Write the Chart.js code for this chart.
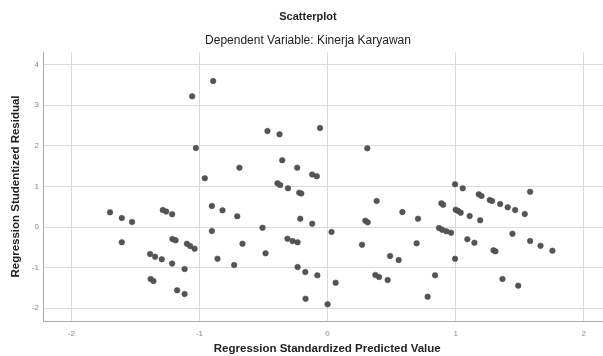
<!DOCTYPE html>
<html lang="en">
<head>
    <meta charset="UTF-8">
    <title>Scatterplot</title>
    <style>
        html, body { margin: 0; padding: 0; background: #fff; overflow: hidden; }
        .chart-container { width: 616px; height: 356px; }
    </style>
</head>
<body>
    <div class="chart-container">
        <canvas class="scatter-chart"></canvas>
    </div>

    <script src="https://cdn.jsdelivr.net/npm/chart.js@4.4.1/dist/chart.umd.min.js"></script>
    <script>
        // Predicted values (x) and studentized residuals (y)
        const predicted = [
            -1.698, -1.606, -1.526, -1.606, -1.385, -1.346, -1.294, -1.213, -1.116, -1.381,
            -1.359, -1.174, -1.116, -1.286, -1.260, -1.213, -1.211, -1.186, -1.098, -1.073,
            -1.038, -1.057, -0.893, -1.028, -0.958, -0.903, -0.820, -0.705, -0.903, -0.688,
            -0.859, -0.729, -0.664, -0.508, -0.484, -0.469, -0.375, -0.059, -0.354, -0.237,
            -0.120, -0.084, -0.391, -0.370, -0.309, -0.221, -0.205, -0.213, -0.120, -0.313,
            -0.273, -0.234, -0.234, -0.174, -0.080, -0.172, 0.000, 0.031, 0.063, 0.310,
            0.383, 0.295, 0.313, 0.269, 0.373, 0.402, 0.469, 0.488, 0.555, 0.584,
            0.706, 0.695, 0.781, 0.839, 0.888, 0.902, 0.870, 0.894, 0.927, 0.964,
            0.995, 1.055, 0.995, 1.000, 1.019, 1.039, 1.109, 1.191, 1.091, 1.146,
            1.180, 1.201, 1.266, 1.284, 1.347, 1.406, 1.464, 1.539, 1.581, 1.443,
            1.295, 1.310, 1.365, 1.488, 1.581, 1.662, 1.755
        ];
        const residual = [
            0.362, 0.222, 0.123, -0.377, -0.665, -0.732, -0.796, -0.899, -1.034, -1.281,
            -1.330, -1.559, -1.650, 0.419, 0.382, 0.315, -0.296, -0.328, -0.411, -0.468,
            -0.534, 3.219, 3.596, 1.946, 1.200, 0.517, 0.411, 0.264, -0.099, 1.461,
            -0.781, -0.936, -0.411, -0.017, -0.648, 2.365, 2.283, 2.438, 1.643, 1.461,
            1.293, 1.251, 1.076, 1.034, 0.953, 0.845, 0.825, 0.204, 0.081, -0.288,
            -0.345, -0.377, -0.985, -1.108, -1.190, -1.766, -1.904, -0.123, -1.372, 1.938,
            0.640, 0.155, 0.116, -0.436, -1.182, -1.232, -1.305, -0.714, -0.813, 0.369,
            0.204, -0.401, -1.717, -1.190, 0.584, 0.549, -0.025, -0.066, -0.106, -0.140,
            1.052, 0.953, -0.781, 0.426, 0.394, 0.352, 0.271, 0.165, -0.303, -0.387,
            0.805, 0.764, 0.665, 0.640, 0.567, 0.485, 0.419, 0.320, 0.869, -0.165,
            -0.574, -0.599, -1.281, -1.446, -0.345, -0.461, -0.584
        ];
        const xTicks = [-2, -1, 0, 1, 2];
        const yTicks = [-2, -1, 0, 1, 2, 3, 4];

        const points = predicted.map((x, i) => ({ x: x, y: residual[i] }));

        const fontFamily = 'Arial, "Liberation Sans", sans-serif';

        const ctx = document.querySelector(".scatter-chart").getContext("2d");
        const chart = new Chart(ctx, {
            type: 'scatter',
            data: {
                datasets: [{
                    data: points,
                    backgroundColor: '#555555',
                    borderColor: '#444444',
                    borderWidth: 0.5,
                    pointRadius: 2.8
                }]
            },
            options: {
                responsive: true,
                maintainAspectRatio: false,
                animation: false,
                layout: { padding: 0 },
                plugins: {
                    legend: { display: false },
                    tooltip: { enabled: false },
                    title: {
                        display: true,
                        text: 'Scatterplot',
                        color: '#222',
                        font: { family: fontFamily, size: 11, weight: 'bold' },
                        padding: { top: 10, bottom: 2 }
                    },
                    subtitle: {
                        display: true,
                        text: 'Dependent Variable: Kinerja Karyawan',
                        color: '#222',
                        font: { family: fontFamily, size: 12 },
                        padding: { top: 8.6, bottom: 3.8 }
                    }
                },
                scales: {
                    x: {
                        type: 'linear',
                        min: -2.221,
                        max: 2.216,
                        afterBuildTicks: (scale) => { scale.ticks = xTicks.map(v => ({ value: v })); },
                        afterFit: (scale) => { scale.height = 35; },
                        grid: { color: '#dadada', tickLength: 0 },
                        border: { color: '#a8a8a8' },
                        ticks: {
                            padding: 8,
                            color: '#888',
                            font: { family: fontFamily, size: 8 }
                        },
                        title: {
                            display: true,
                            text: 'Regression Standardized Predicted Value',
                            color: '#222',
                            font: { family: fontFamily, size: 11.5, weight: 'bold' },
                            padding: { top: 0, bottom: 0 }
                        }
                    },
                    y: {
                        type: 'linear',
                        min: -2.315,
                        max: 4.31,
                        afterBuildTicks: (scale) => { scale.ticks = yTicks.map(v => ({ value: v })); },
                        afterFit: (scale) => { scale.width = 43; },
                        grid: { color: '#dadada', tickLength: 0 },
                        border: { color: '#a8a8a8' },
                        ticks: {
                            padding: 4,
                            color: '#888',
                            font: { family: fontFamily, size: 8 }
                        },
                        title: {
                            display: true,
                            text: 'Regression Studentized Residual',
                            color: '#222',
                            font: { family: fontFamily, size: 11.5, weight: 'bold' },
                            padding: { top: 9, bottom: 0 }
                        }
                    }
                }
            }
        });
    </script>
</body>
</html>
